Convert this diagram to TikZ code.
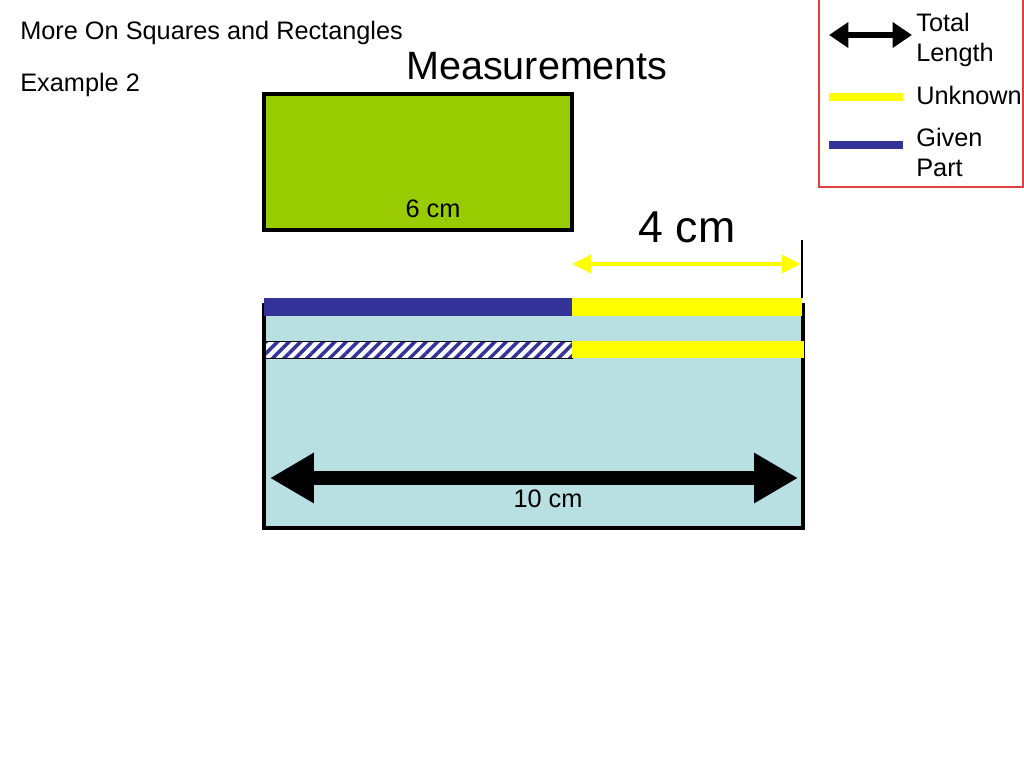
\documentclass[tikz,border=0pt]{standalone}
\usepackage{fontspec}
\setmainfont{Liberation Sans}
\usetikzlibrary{%
  arrows.meta,%
  patterns,%
  patterns.meta,% hatched bar
  positioning,%
  calc
}
\definecolor{lime}{HTML}{99CC00}
\definecolor{pool}{HTML}{B8DFE2}
\definecolor{given}{HTML}{333399}
\definecolor{unknown}{HTML}{FFFF00}
\definecolor{legendred}{HTML}{E04040}

\begin{document}
\begin{tikzpicture}[
  x=0.02cm, y=-0.02cm,
  font=\fontsize{14.4}{17}\selectfont,
  total/.style={line width=8pt, {Triangle[length=25pt,width=27pt]}-{Triangle[length=25pt,width=27pt]}},
  totalkey/.style={line width=3.5pt, {Triangle[length=11pt,width=14pt]}-{Triangle[length=11pt,width=14pt]}},
  unknownarrow/.style={line width=2.8pt, unknown, {Triangle[length=11pt,width=10pt]}-{Triangle[length=11pt,width=10pt]}},
  givenbar/.style={fill=given},
  unknownbar/.style={fill=unknown},
  hatchbar/.style={fill=white, draw=black, line width=0.5pt},
  hatchlines/.style={pattern={Lines[angle=45, distance=4.6pt, line width=2pt]}, pattern color=given},
  keyline/.style={line width=4pt, line cap=butt},
  label/.style={inner sep=0pt, anchor=base west}
]
\useasboundingbox (0,0) rectangle (1024,768);

% titles
\node[label] (title) at (20,39) {More On Squares and Rectangles};
\node[label] (example) at (20,91) {Example 2};
\node[anchor=base, inner sep=0pt, font=\fontsize{22.5}{27}\selectfont] (meas) at (537,79) {Measurements};

% the 6 cm rectangle
\draw[line width=2.3pt, fill=lime] (264,94) rectangle (572,230);
\node[anchor=base, inner sep=0pt] (six) at (433,217) {6 cm};

% the 10 cm rectangle
\draw[line width=2.3pt, fill=pool] (264,305) rectangle (803,528);
\coordinate (tl) at (270,478);
\coordinate (tr) at (798,478);
\draw[total] (tl) -- (tr);
\node[anchor=base, inner sep=0pt] (ten) at (548,507) {10 cm};

% bars
\fill[givenbar] (264,298) rectangle (572,316);
\fill[unknownbar] (572,298) rectangle (802,316);
\filldraw[hatchbar] (265,341) rectangle (572,358);
\fill[hatchlines] (265,341) rectangle (572,358);
\draw[line width=0.5pt] (265,341) rectangle (572,358);
\fill[unknownbar] (572,341) rectangle (804,358);

% the 4 cm part
\coordinate (ul) at (572,264);
\coordinate (ur) at (801,264);
\draw[line width=1pt] (802,240) -- (802,298);
\draw[unknownarrow] (ul) -- (ur);
\node[anchor=base, inner sep=0pt, font=\fontsize{25.4}{30}\selectfont] (four) at (687,242) {4 cm};

% key
\draw[legendred, line width=0.8pt] (819,-2) rectangle (1023,187);
\coordinate (kl) at (829,35);
\coordinate (kr) at (912,35);
\draw[totalkey] (kl) -- (kr);
\node[label] (klen) at (916,31) {Total};
\node[label] (klen2) at (916,61) {Length};
\draw[keyline, unknown] (829,97) -- (903,97);
\node[label] (kunk) at (916,104) {Unknown};
\draw[keyline, given] (829,145) -- (903,145);
\node[label] (kgiv) at (916,146) {Given};
\node[label] (kgiv2) at (916,176) {Part};
\end{tikzpicture}
\end{document}
